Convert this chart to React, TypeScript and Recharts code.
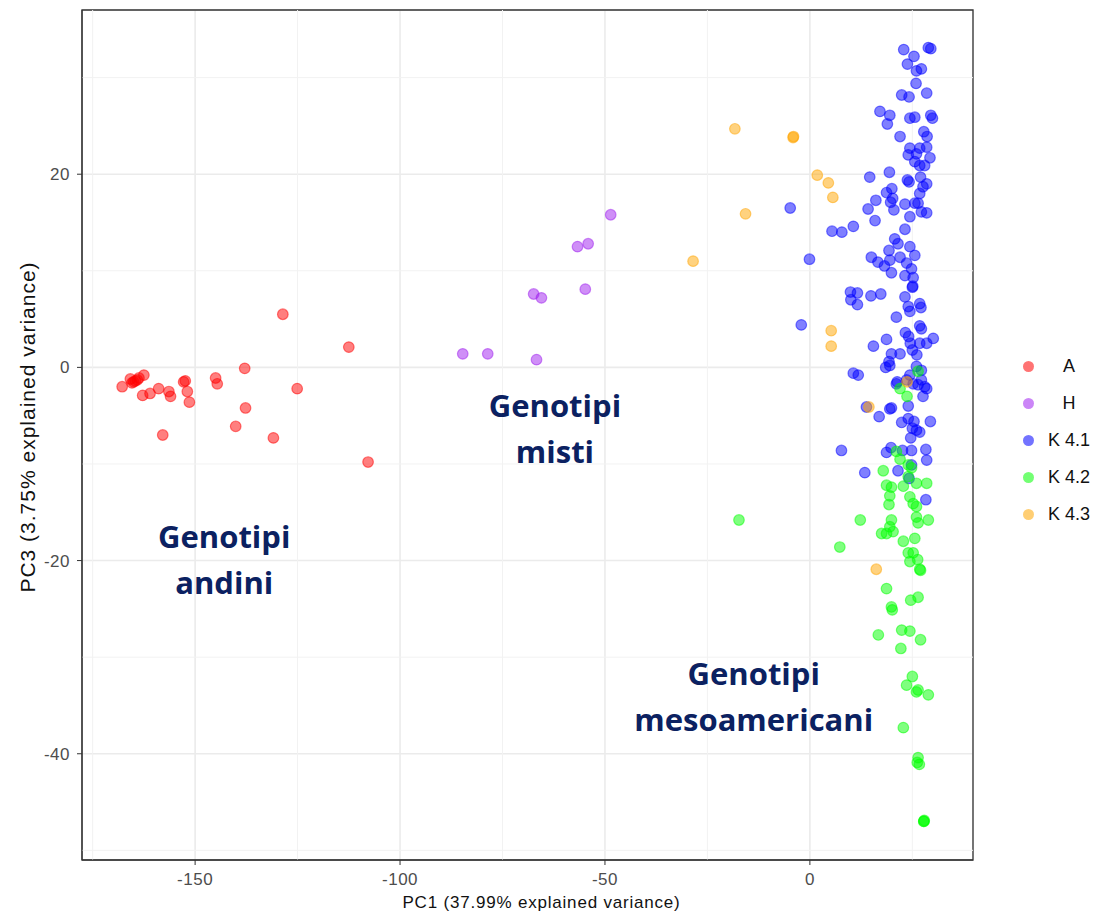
import React from "react";
import {
  ScatterChart,
  Scatter,
  XAxis,
  YAxis,
  CartesianGrid,
  ReferenceLine,
  ReferenceArea,
  ReferenceDot,
  Legend,
} from "recharts";

// PC1 / PC3 scores, per genetic group
const groupA: [number, number][] = [
  [-128.6, 5.5], [-112.5, 2.1], [-137.9, -0.1], [-167.8, -2.0], [-165.8, -1.2],
  [-165.0, -1.5], [-164.1, -1.3], [-163.7, -1.1], [-165.4, -1.6], [-162.5, -0.8],
  [-164.6, -1.4], [-162.8, -2.9], [-161.0, -2.7], [-158.9, -2.2], [-156.4, -2.5],
  [-156.0, -3.0], [-157.9, -7.0], [-152.8, -1.5], [-152.4, -1.4], [-151.9, -2.5],
  [-151.4, -3.6], [-145.0, -1.1], [-144.6, -1.7], [-125.1, -2.2], [-137.7, -4.2],
  [-140.1, -6.1], [-130.9, -7.3], [-107.8, -9.8],
];

const groupH: [number, number][] = [
  [-48.6, 15.8], [-56.7, 12.5], [-54.1, 12.8], [-54.8, 8.1], [-67.4, 7.6],
  [-65.5, 7.2], [-84.7, 1.4], [-78.6, 1.4], [-66.7, 0.8],
];

const groupK41: [number, number][] = [
  [22.9, 32.9], [28.9, 33.1], [29.5, 33.0], [25.4, 32.2], [23.8, 31.4], [27.2, 30.9],
  [26.0, 30.7], [25.9, 29.4], [28.5, 28.4], [22.4, 28.2], [24.2, 28.0], [17.1, 26.5],
  [19.5, 26.1], [18.9, 25.2], [24.4, 25.8], [25.6, 25.9], [29.5, 26.1], [29.9, 25.8],
  [22.0, 23.9], [27.8, 24.4], [28.6, 23.9], [24.4, 22.7], [26.8, 22.7], [28.5, 22.8],
  [24.0, 22.0], [26.0, 22.1], [29.3, 21.7], [25.6, 21.3], [26.8, 20.9], [28.0, 20.9],
  [14.6, 19.7], [19.4, 20.2], [23.8, 19.4], [24.2, 19.2], [27.0, 19.7], [28.5, 19.0],
  [20.0, 18.5], [18.7, 18.1], [20.2, 17.5], [19.7, 17.1], [26.8, 18.0], [26.4, 17.0],
  [27.6, 18.7], [16.1, 17.3], [14.2, 16.4], [23.2, 16.9], [20.5, 16.3], [24.4, 15.6],
  [25.6, 17.0], [27.2, 16.1], [28.5, 16.0], [15.9, 15.2], [23.2, 14.3], [-4.8, 16.5],
  [5.4, 14.1], [7.8, 14.0], [10.6, 14.6], [-0.1, 11.2], [9.9, 7.8], [10.0, 7.0],
  [11.6, 7.7], [11.6, 6.5], [-2.1, 4.4], [10.6, -0.6], [11.8, -0.8],
  [20.7, 13.3], [21.5, 12.8], [19.3, 12.1], [15.0, 11.4], [16.6, 10.9], [18.2, 10.5],
  [19.9, 9.8], [19.5, 11.1], [22.0, 11.4], [24.4, 12.5], [25.6, 11.6], [23.6, 10.8],
  [24.8, 10.2], [23.2, 9.5], [25.2, 9.3], [25.0, 8.3], [25.1, 8.4],
  [14.9, 7.4], [17.3, 7.6], [23.2, 7.3], [24.0, 6.3], [24.4, 5.8], [26.8, 6.6],
  [27.1, 6.2], [21.1, 5.2], [26.8, 4.3], [27.2, 4.0], [23.3, 3.6], [24.1, 3.2],
  [24.5, 2.5], [26.8, 2.5], [30.1, 3.0], [28.5, 2.5], [15.5, 2.2], [18.7, 2.9],
  [22.0, 1.4], [19.9, 1.4], [25.0, 1.8], [26.1, 1.3], [19.3, 0.6], [18.5, 0.0],
  [19.5, 0.2], [26.0, 0.1], [24.4, -0.8], [23.6, -1.3], [25.2, -1.7], [27.2, -1.3],
  [28.5, -2.2], [21.3, -1.5], [27.2, -0.3], [21.1, -1.7], [26.4, -1.8], [28.0, -2.0],
  [27.6, -3.0], [24.0, -4.0], [13.8, -4.1], [16.9, -5.1], [19.5, -4.3], [19.9, -4.2],
  [22.4, -5.7], [24.0, -5.3], [25.4, -5.6], [25.0, -6.3], [26.0, -6.5], [26.8, -6.7],
  [24.6, -7.3], [29.4, -5.6], [7.7, -8.6], [18.7, -8.8], [19.8, -8.3], [22.6, -8.6],
  [24.8, -8.6], [28.3, -8.5], [28.5, -9.6], [13.4, -10.9], [21.5, -10.7], [24.8, -10.1],
  [24.2, -11.5], [28.3, -13.7],
];

const groupK42: [number, number][] = [
  [26.4, -0.4], [22.0, -2.2], [23.7, -3.0], [21.1, -8.7], [22.0, -9.5], [24.0, -10.1],
  [24.8, -10.4], [17.9, -10.7], [24.0, -11.3], [18.7, -12.2], [19.9, -12.4], [22.8, -12.3],
  [26.0, -12.0], [28.5, -12.0], [19.5, -13.3], [19.3, -14.2], [24.4, -13.4], [25.2, -14.1],
  [26.0, -14.4], [12.3, -15.8], [7.3, -18.6], [-17.3, -15.8], [19.9, -15.8], [19.5, -16.5],
  [20.3, -17.0], [17.5, -17.2], [18.7, -17.2], [26.0, -15.5], [26.4, -16.1], [28.9, -15.8],
  [22.8, -18.0], [25.6, -17.7], [24.0, -19.2], [25.2, -19.2], [24.4, -20.1], [26.3, -19.9],
  [26.8, -20.9], [27.0, -21.0], [18.7, -22.9], [24.6, -24.1], [26.4, -23.8], [19.9, -24.8],
  [20.1, -25.1], [16.7, -27.7], [22.4, -27.2], [24.4, -27.3], [27.0, -28.2], [22.2, -29.1],
  [25.0, -32.0], [23.6, -32.9], [26.4, -33.4], [26.0, -33.6], [28.9, -33.9], [22.8, -37.3],
  [26.4, -40.4], [26.2, -40.9], [26.7, -41.1], [27.8, -47.0], [27.8, -47.0], [27.9, -46.9],
];

const groupK43: [number, number][] = [
  [-18.3, 24.7], [-4.1, 23.8], [-4.0, 23.9], [1.8, 19.9], [4.5, 19.1], [5.6, 17.6],
  [-15.7, 15.9], [-28.5, 11.0], [5.2, 3.8], [5.2, 2.2], [16.2, -20.9], [23.7, -1.5],
  [14.4, -4.1],
];

const xTicks = [-150, -100, -50, 0];
const xMinor = [-175, -125, -75, -25, 25];
const yTicks = [-40, -20, 0, 20];
const yMinor = [-50, -30, -10, 10, 30];

const series = [
  { name: "A", color: "#FF0000", points: groupA },
  { name: "H", color: "#A020F0", points: groupH },
  { name: "K 4.1", color: "#0000FF", points: groupK41 },
  { name: "K 4.2", color: "#00FF00", points: groupK42 },
  { name: "K 4.3", color: "#FFA500", points: groupK43 },
];

const toRows = (pts: [number, number][]) => pts.map(([x, y]) => ({ x, y }));

const FONT = "'Liberation Sans', Arial, sans-serif";
const NAVY = "#0B2161";

function Dot(props: any) {
  const { cx, cy, fill } = props;
  return (
    <circle
      cx={cx}
      cy={cy}
      r={5.3}
      fill={fill}
      fillOpacity={0.5}
      stroke={fill}
      strokeOpacity={0.5}
      strokeWidth={1.2}
    />
  );
}

function GroupLabel(props: any) {
  const vb = props.viewBox || {};
  const x = (vb.x ?? 0) + (vb.width ?? 0) / 2;
  const y = (vb.y ?? 0) + (vb.height ?? 0) / 2;
  return (
    <text
      x={x}
      y={y}
      textAnchor="middle"
      fill={NAVY}
      fontFamily="'Open Sans', sans-serif"
      fontWeight={700}
      fontSize={31}
    >
      {props.lines.map((l: string, i: number) => (
        <tspan key={i} x={x} dy={i === 0 ? 0 : 46}>
          {l}
        </tspan>
      ))}
    </text>
  );
}

function LegendBox() {
  return (
    <div style={{ fontFamily: FONT, fontSize: 18, color: "#111" }}>
      {series.map((s) => (
        <div
          key={s.name}
          style={{ display: "flex", alignItems: "center", height: 37 }}
        >
          <span
            style={{
              width: 11,
              height: 11,
              borderRadius: "50%",
              background: s.color,
              opacity: 0.55,
              marginLeft: 18,
            }}
          />
          <span style={{ width: 52, marginLeft: 9, textAlign: "center" }}>
            {s.name}
          </span>
        </div>
      ))}
    </div>
  );
}

export default function App() {
  return (
    <div
      style={{
        position: "absolute",
        left: 0,
        top: 0,
        width: 1101,
        height: 914,
        background: "#fff",
      }}
    >
      <ScatterChart
        width={1101}
        height={914}
        margin={{ top: 10, right: 128, left: 0, bottom: 0 }}
      >
        <CartesianGrid stroke="#EBEBEB" strokeWidth={1.6} />
        {xMinor.map((v) => (
          <ReferenceLine key={`vx${v}`} x={v} stroke="#F2F2F2" strokeWidth={1} />
        ))}
        {yMinor.map((v) => (
          <ReferenceLine key={`hy${v}`} y={v} stroke="#F2F2F2" strokeWidth={1} />
        ))}
        <XAxis
          type="number"
          dataKey="x"
          domain={[-177.6, 39.8]}
          ticks={xTicks}
          allowDataOverflow
          height={54}
          tickSize={5}
          tickMargin={8}
          stroke="#333"
          tick={{ fill: "#4D4D4D", fontSize: 17, fontFamily: FONT, letterSpacing: 0.5 }}
          label={{
            content: (p: any) => {
              const vb = p.viewBox || {};
              return (
                <text
                  x={vb.x + vb.width / 2 + 14}
                  y={vb.y + 48}
                  textAnchor="middle"
                  fontFamily={FONT}
                  fontSize={17}
                  letterSpacing={0.8}
                  fill="#111"
                >
                  PC1 (37.99% explained variance)
                </text>
              );
            },
          }}
        />
        <YAxis
          type="number"
          dataKey="y"
          domain={[-51, 37]}
          ticks={yTicks}
          allowDataOverflow
          width={82}
          tickSize={5}
          tickMargin={7}
          stroke="#333"
          tick={{ fill: "#4D4D4D", fontSize: 17, fontFamily: FONT, letterSpacing: 0.5 }}
          label={{
            content: (p: any) => {
              const vb = p.viewBox || {};
              const cy = vb.y + vb.height / 2 - 8;
              return (
                <text
                  x={35}
                  y={cy}
                  transform={`rotate(-90 35 ${cy})`}
                  textAnchor="middle"
                  fontFamily={FONT}
                  fontSize={21}
                  letterSpacing={1}
                  fill="#111"
                >
                  PC3 (3.75% explained variance)
                </text>
              );
            },
          }}
        />
        <ReferenceArea
          x1={-177.6}
          x2={39.8}
          y1={-51}
          y2={37}
          fill="none"
          stroke="#333"
          strokeWidth={1.3}
          fillOpacity={0}
        />
        {series.map((s) => (
          <Scatter
            key={s.name}
            name={s.name}
            data={toRows(s.points)}
            fill={s.color}
            shape={Dot}
            isAnimationActive={false}
          />
        ))}
        <ReferenceDot
          x={-142.9}
          y={-18.7}
          r={0}
          ifOverflow="visible"
          label={(p: any) => <GroupLabel {...p} lines={["Genotipi", "andini"]} />}
        />
        <ReferenceDot
          x={-62.2}
          y={-5.1}
          r={0}
          ifOverflow="visible"
          label={(p: any) => <GroupLabel {...p} lines={["Genotipi", "misti"]} />}
        />
        <ReferenceDot
          x={-13.7}
          y={-32.9}
          r={0}
          ifOverflow="visible"
          label={(p: any) => (
            <GroupLabel {...p} lines={["Genotipi", "mesoamericani"]} />
          )}
        />
        <Legend
          layout="horizontal"
          align="center"
          verticalAlign="middle"
          content={() => <LegendBox />}
          wrapperStyle={{ left: 1005, top: 348, width: 96 }}
        />
      </ScatterChart>
    </div>
  );
}
